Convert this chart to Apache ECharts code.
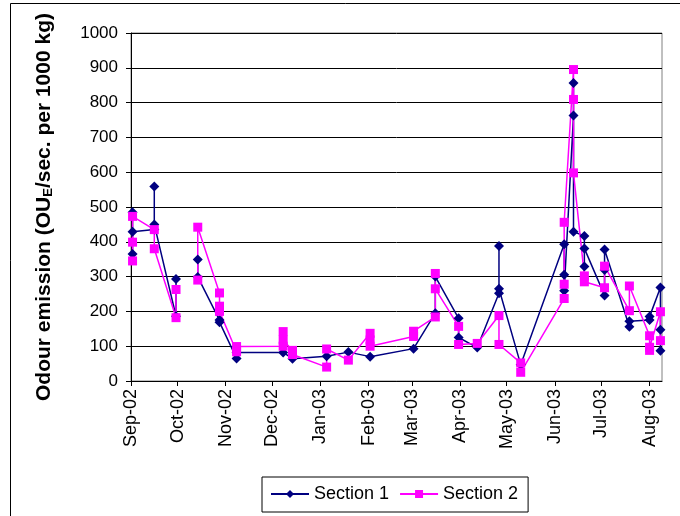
<!DOCTYPE html>
<html>
<head>
<meta charset="utf-8">
<script src="https://cdn.jsdelivr.net/npm/echarts@6/dist/echarts.min.js"></script>
<style>
  html, body { margin: 0; padding: 0; background: #fff; }
  #chart { width: 680px; height: 516px; }
</style>
</head>
<body>
<div id="chart"></div>
<script>
// sampling dates; several measurements per date -> vertical runs
var sampleDates = [
  '2002-09-02', '2002-09-16', '2002-09-30', '2002-10-07', '2002-10-14',
  '2002-10-28', '2002-11-08', '2002-12-08', '2002-12-14', '2003-01-05',
  '2003-01-19', '2003-02-02', '2003-03-02', '2003-03-16', '2003-03-31',
  '2003-04-12', '2003-04-26', '2003-05-10', '2003-06-07', '2003-06-13',
  '2003-06-20', '2003-07-03', '2003-07-19', '2003-08-01', '2003-08-08'
];
var section1 = [
  [485, 365, 429], [435, 559, 450], [186, 293], [null], [349, 299],
  [175, 169], [65, 82], [82], [64], [71],
  [83], [70], [93], [195, 300], [180, 125],
  [96], [252, 388, 265], [47], [393, 305, 259], [763, 856, 429],
  [417, 329, 381], [246, 319, 378], [156, 172], [175, 185], [269, 147, 87]
];
var section2 = [
  [345, 399, 473], [435, 380], [182, 263], [null], [290, 442],
  [253, 215, 200], [84, 99], [100, 142, 118], [88, 76], [40, 92],
  [60], [137, 118, 100], [128, 143], [184, 309, 265], [157, 105],
  [108], [188, 105], [52, 25], [237, 278, 456], [895, 809, 598],
  [302, 285], [268, 330], [202, 273], [130, 88, 97], [199, 116]
];
var monthNames = ['Jan', 'Feb', 'Mar', 'Apr', 'May', 'Jun', 'Jul', 'Aug', 'Sep', 'Oct', 'Nov', 'Dec'];

function toPoints(vals) {
  var out = [];
  sampleDates.forEach(function (d, i) {
    vals[i].forEach(function (v) { out.push([d, v]); });
  });
  return out;
}

var font = 'Liberation Sans, Arial, sans-serif';
var myChart = echarts.init(document.getElementById('chart'));
var option = {
  animation: false,
  backgroundColor: '#fff',
  graphic: [{
    type: 'rect',
    shape: { x: 10.5, y: 3.5, width: 720, height: 600 },
    style: { fill: 'none', stroke: '#000', lineWidth: 1 },
    z: -1
  }],
  grid: {
    left: 131, right: 18, top: 33, bottom: 135,
    show: true, borderColor: '#808080', borderWidth: 1
  },
  legend: {
    left: 262, top: 477,
    padding: [8, 10, 9, 8],
    borderColor: '#000', borderWidth: 1,
    backgroundColor: '#fff',
    itemWidth: 38, itemHeight: 10, itemGap: 10,
    textStyle: { fontFamily: font, fontSize: 18, color: '#000' },
    data: ['Section 1', 'Section 2']
  },
  xAxis: {
    type: 'time',
    min: '2002-09-01',
    max: '2003-08-09',
    splitNumber: 12,
    axisLine: { lineStyle: { color: '#000', width: 1 } },
    axisTick: { show: true, length: 5, lineStyle: { color: '#000' } },
    splitLine: { show: false },
    axisLabel: {
      rotate: 90,
      margin: 8,
      fontFamily: font, fontSize: 18, color: '#000',
      showMaxLabel: false,
      formatter: function (v) {
        var d = new Date(v);
        return monthNames[d.getMonth()] + '-' + String(d.getFullYear()).slice(2);
      }
    }
  },
  yAxis: {
    type: 'value',
    min: 0, max: 1000, interval: 100,
    name: 'Odour emission (OU{sub|E}/sec. per 1000 kg)',
    nameLocation: 'middle',
    nameRotate: 90,
    nameGap: 76,
    nameTextStyle: {
      fontFamily: font, fontSize: 21, fontWeight: 'bold', color: '#000',
      rich: {
        sub: { fontFamily: font, fontSize: 13, fontWeight: 'bold', color: '#000', padding: [9, 0, 0, 0] }
      }
    },
    axisLine: { show: true, lineStyle: { color: '#000', width: 1 } },
    axisTick: { show: true, length: 5, lineStyle: { color: '#000' } },
    splitLine: { lineStyle: { color: '#000', width: 1 } },
    axisLabel: {
      margin: 13, fontFamily: font, fontSize: 17, color: '#000',
      formatter: function (v) { return String(v); }
    }
  },
  series: [
    {
      name: 'Section 1',
      type: 'line',
      data: toPoints(section1),
      symbol: 'diamond',
      symbolSize: 10,
      showAllSymbol: true,
      connectNulls: false,
      itemStyle: { color: '#000080' },
      lineStyle: { color: '#000080', width: 1.5 }
    },
    {
      name: 'Section 2',
      type: 'line',
      data: toPoints(section2),
      symbol: 'rect',
      symbolSize: 9,
      showAllSymbol: true,
      connectNulls: false,
      itemStyle: { color: '#FF00FF' },
      lineStyle: { color: '#FF00FF', width: 1.5 }
    }
  ]
};
myChart.setOption(option);
</script>
</body>
</html>
